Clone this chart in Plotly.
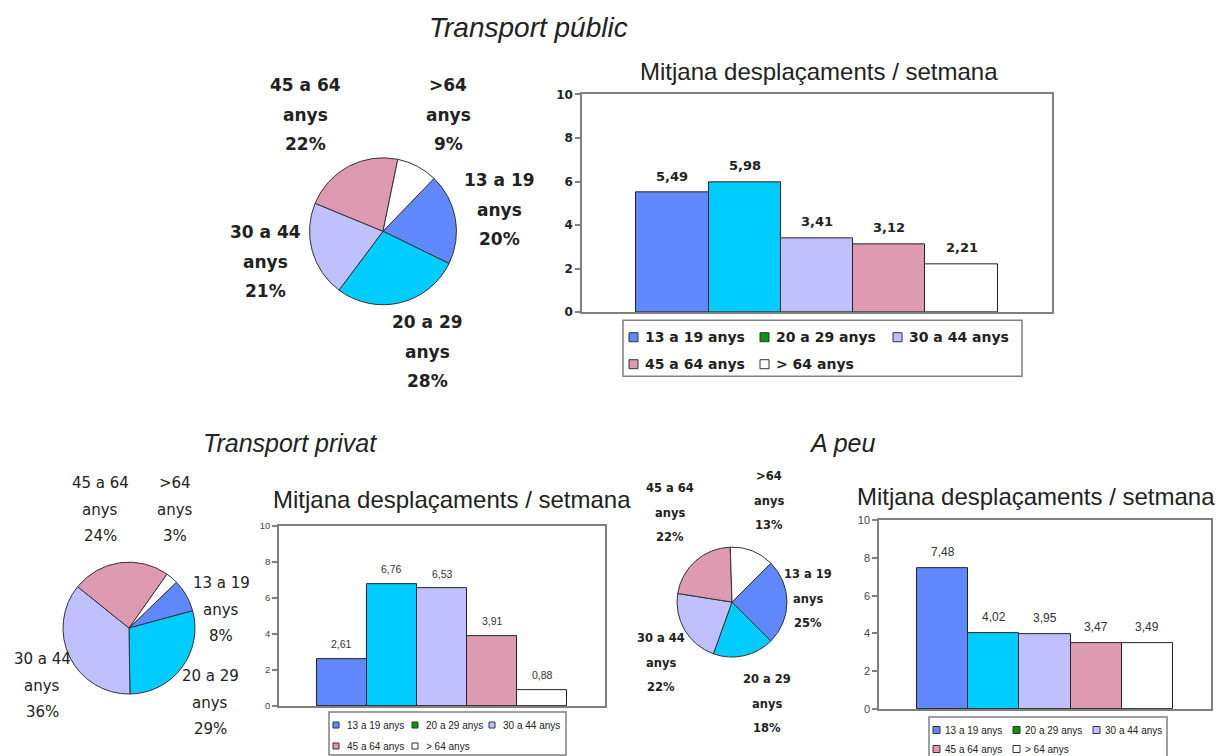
import plotly.graph_objects as go

W, H = 1231, 756

# ---- data -------------------------------------------------------------
age_short = ["13 a 19", "20 a 29", "30 a 44", "45 a 64", ">64"]
age_long = ["13 a 19 anys", "20 a 29 anys", "30 a 44 anys", "45 a 64 anys", "> 64 anys"]

public_share = [20, 28, 21, 22, 9]          # % of users by age group
public_trips = [5.49, 5.98, 3.41, 3.12, 2.21]  # mean trips per week

private_share = [8, 29, 36, 24, 3]
private_trips = [2.61, 6.76, 6.53, 3.91, 0.88]

walk_share = [25, 18, 22, 22, 13]
walk_trips = [7.48, 4.02, 3.95, 3.47, 3.49]

y_ticks = [0, 2, 4, 6, 8, 10]

# ---- styling ----------------------------------------------------------
slice_colors = ["#6188FF", "#00CCFF", "#C0C0FF", "#DD9AB0", "#FFFFFF"]
key_colors = ["#6188FF", "#009900", "#C0C0FF", "#DD9AB0", "#FFFFFF"]
GREY = "#808080"
INK = "#222222"
SANS = "Liberation Sans, Arial, sans-serif"
WIDE = "DejaVu Sans, Verdana, sans-serif"

# vertical placement: page pixel -> paper fraction
Y_OFF, Y_SCALE = 5.6, 0.982


def fx(x):
    return x / W


def fy(y):
    return 1 - ((y - Y_OFF) / Y_SCALE) / H


panels = [
    dict(
        share=public_share, trips=public_trips,
        pie_c=(383, 230), pie_r=73.5, rotation=44,
        label_pos=[(499, 179), (427, 321), (265, 231), (305, 84), (448, 84)],
        label_gap=29.5, label_font=dict(family=WIDE, size=17, color=INK, weight="bold"),
        plot=(582, 1052, 93, 311),
        value_font=dict(family=WIDE, size=13, color=INK, weight="bold"),
        tick_font=dict(family=WIDE, size=12, color=INK, weight="bold"),
        heading=("Transport públic", 528, 26, 28),
        sub=(819, 70, 24),
        key_box=(623, 1022, 319, 375), key_rows=(336, 363),
        key_cols=(629, 760, 893), key_sw=9, key_txt=14,
        key_font=dict(family=WIDE, size=14, color=INK, weight="bold"),
    ),
    dict(
        share=private_share, trips=private_trips,
        pie_c=(129, 627), pie_r=66, rotation=46,
        label_pos=[(221, 582), (210, 675), (42, 658), (100, 482), (175, 482)],
        label_gap=26.5, label_font=dict(family=WIDE, size=15, color=INK),
        plot=(279, 605, 525, 705),
        value_font=dict(family=SANS, size=10.5, color="#333333"),
        tick_font=dict(family=SANS, size=9.5, color="#444444"),
        heading=("Transport privat", 290, 442, 25),
        sub=(452, 498, 24),
        key_box=(329, 566, 711, 754), key_rows=(724, 745),
        key_cols=(333, 412, 489), key_sw=6, key_txt=12,
        key_font=dict(family=SANS, size=10, color=INK),
    ),
    dict(
        share=walk_share, trips=walk_trips,
        pie_c=(732, 601), pie_r=55, rotation=45,
        label_pos=[(808, 573), (767, 678), (661, 637), (670, 487), (769, 475)],
        label_gap=24.5, label_font=dict(family=WIDE, size=11.5, color=INK, weight="bold"),
        plot=(879, 1211, 519, 708),
        value_font=dict(family=SANS, size=12, color="#333333"),
        tick_font=dict(family=SANS, size=11, color="#444444"),
        heading=("A peu", 842, 442, 25),
        sub=(1036, 495, 24),
        key_box=(929, 1167, 716, 790), key_rows=(729, 748),
        key_cols=(933, 1013, 1093), key_sw=7, key_txt=10,
        key_font=dict(family=SANS, size=10, color=INK),
    ),
]

fig = go.Figure()
annotations = []
shapes = []
layout_axes = {}


def paper_text(text, x, y, font, xanchor="center"):
    return dict(text=text, x=fx(x), y=fy(y), xref="paper", yref="paper",
                showarrow=False, xanchor=xanchor, yanchor="middle", font=font)


for k, p in enumerate(panels):
    sfx = "" if k == 0 else str(k + 1)
    xa, ya = "x" + sfx, "y" + sfx

    # pie of users by age group
    cx, cy = p["pie_c"]
    r = p["pie_r"]
    fig.add_trace(go.Pie(
        values=p["share"], labels=age_long, sort=False,
        direction="clockwise", rotation=p["rotation"],
        marker=dict(colors=slice_colors, line=dict(color="#333333", width=1)),
        textinfo="none", showlegend=False, hoverinfo="label+percent",
        domain=dict(x=[fx(cx - r), fx(cx + r)], y=[fy(cy + r), fy(cy - r)]),
    ))
    for i, (lx, ly) in enumerate(p["label_pos"]):
        lines = [age_short[i], "anys", f"{p['share'][i]}%"]
        for j, t in enumerate(lines):
            annotations.append(paper_text(t, lx, ly + j * p["label_gap"], p["label_font"]))

    # bars of mean weekly trips
    fig.add_trace(go.Bar(
        x=age_long, y=p["trips"], width=1,
        marker=dict(color=slice_colors, line=dict(color=INK, width=1)),
        xaxis=xa, yaxis=ya, showlegend=False, hoverinfo="x+y",
    ))
    for cat, v in zip(age_long, p["trips"]):
        annotations.append(dict(
            text=f"{v:.2f}".replace(".", ","), x=cat, y=v, xref=xa, yref=ya,
            showarrow=False, xanchor="center", yanchor="bottom", yshift=7,
            font=p["value_font"],
        ))

    x0, x1, y0, y1 = p["plot"]
    layout_axes["xaxis" + sfx] = dict(
        domain=[fx(x0), fx(x1)], anchor=ya, range=[-1.25, 5.25],
        showticklabels=False, ticks="", showgrid=False, zeroline=False,
        showline=True, mirror=True, linecolor=GREY, linewidth=1.5,
        fixedrange=True,
    )
    layout_axes["yaxis" + sfx] = dict(
        domain=[fy(y1), fy(y0)], anchor=xa, range=[0, 10], tickvals=y_ticks,
        ticks="outside", ticklen=5, tickcolor=GREY, tickwidth=1.5,
        showgrid=False, zeroline=False, showline=True, mirror=True,
        linecolor=GREY, linewidth=1.5, tickfont=p["tick_font"], fixedrange=True,
    )

    # headings
    t, hx, hy, hs = p["heading"]
    annotations.append(paper_text(t, hx, hy, dict(family=SANS, size=hs, color=INK, style="italic")))
    sx, sy, ss = p["sub"]
    annotations.append(paper_text("Mitjana desplaçaments / setmana", sx, sy,
                                  dict(family=SANS, size=ss, color=INK)))

    # key box below each bar chart
    bx0, bx1, by0, by1 = p["key_box"]
    shapes.append(dict(type="rect", xref="paper", yref="paper",
                       x0=fx(bx0), x1=fx(bx1), y0=fy(by1), y1=fy(by0),
                       line=dict(color=GREY, width=1.5), fillcolor="white"))
    sw = p["key_sw"]
    for i, name in enumerate(age_long):
        row, col = divmod(i, 3)
        kx = p["key_cols"][col]
        ky = p["key_rows"][row]
        shapes.append(dict(type="rect", xref="paper", yref="paper",
                           x0=fx(kx), x1=fx(kx + sw),
                           y0=fy(ky + sw / 2), y1=fy(ky - sw / 2),
                           line=dict(color="#333333", width=1),
                           fillcolor=key_colors[i]))
        annotations.append(paper_text(name, kx + p["key_txt"], ky, p["key_font"], xanchor="left"))

fig.update_layout(
    width=W, height=H, autosize=False,
    margin=dict(l=0, r=0, t=0, b=0),
    paper_bgcolor="white", plot_bgcolor="white",
    bargap=0, separators=",.",
    annotations=annotations, shapes=shapes,
    **layout_axes,
)

fig.write_html("out.html", config={"displayModeBar": False})
